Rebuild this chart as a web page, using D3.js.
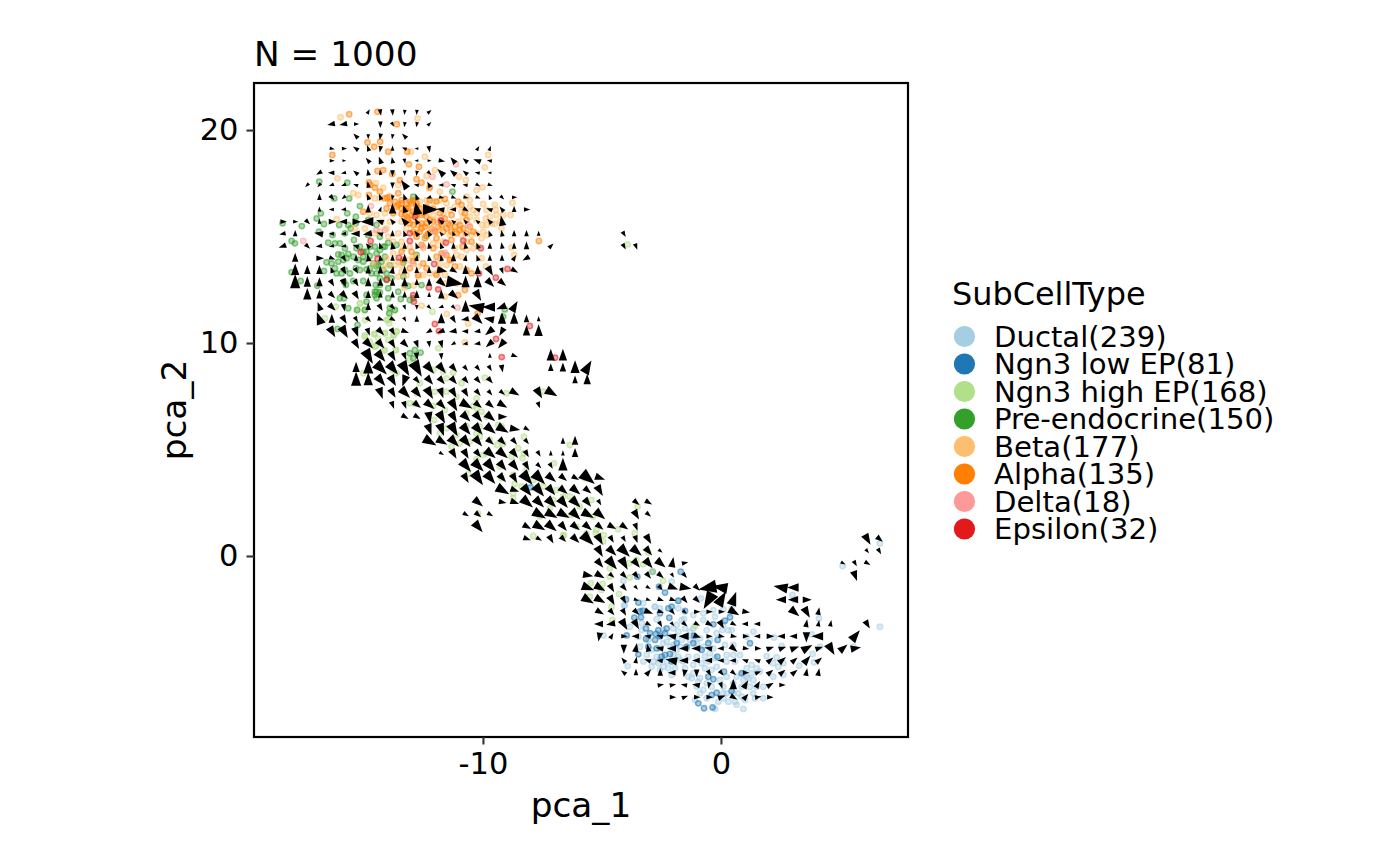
<!DOCTYPE html>
<html><head><meta charset="utf-8">
<script src="https://cdn.jsdelivr.net/npm/d3@7"></script>
<style>html,body{margin:0;padding:0;background:#fff}svg{display:block}text{font-family:"DejaVu Sans",sans-serif;fill:#000}</style>
</head><body><svg id="c" width="1400" height="866"></svg>
<script>
const cellTypes=["Ductal(239)","Ngn3 low EP(81)","Ngn3 high EP(168)","Pre-endocrine(150)","Beta(177)","Alpha(135)","Delta(18)","Epsilon(32)"];
const cellColors=["#A6CEE3","#1F78B4","#B2DF8A","#33A02C","#FDBF6F","#FF7F00","#FB9A99","#E31A1C"];
const xTicks=[-10,0];
const yTicks=[0,10,20];
const ductal=[6.68,0.59,5.11,-0.47,6.68,-3.32,3.01,-1.83,3.07,-2.04,4.12,-2.93,3.81,-3.68,5.56,-4.26,2.23,-3.83,2.55,-4.23,4.16,-4.26,3.85,-4.6,3.91,-4.99,3.29,-5.15,-4.1,-1.16,-2.07,-1.21,-0.84,-1.99,-0.39,-1.57,-4.07,-2.35,-4.94,-3.73,-3.92,-5.17,-2.77,-2.38,-2.56,-2.46,-1.79,-2.46,-1.16,-2.77,-0.74,-2.69,-0.25,-2.85,0.1,-2.5,0.45,-2.5,-1.55,-2.96,-2.7,-2.97,0.06,-3.47,0.31,-3.5,1.36,-3.55,-2,-3.4,-1.79,-3.55,-1.51,-3.4,-1.3,-3.55,-2.56,-3.79,-2.14,-3.79,-1.93,-3.79,-1.65,-3.94,-1.44,-3.79,-2.28,-4.02,-2,-4.18,-1.72,-4.26,-1.44,-4.34,-2.56,-4.34,-1.02,-4.1,-0.74,-4.26,-0.32,-4.34,0.17,-4.18,0.52,-4.18,-0.46,-3.94,-0.88,-3.87,-3.12,-4.65,-2.84,-4.96,-2.63,-5.04,-2.42,-5.2,-2.21,-5.27,-1.93,-5.27,-1.58,-4.96,-1.37,-4.73,-1.16,-5.12,-0.81,-5.04,-0.53,-4.96,-0.25,-4.8,0.24,-4.65,0.52,-4.65,0.8,-4.65,0.24,-4.96,0.59,-4.96,1.92,-4.7,2.34,-4.76,2.2,-5.04,2.41,-5.2,2.62,-5.04,1.29,-5.12,1.08,-5.27,1.5,-5.27,0.94,-5.51,1.29,-5.51,1.64,-5.43,2.2,-5.67,2.62,-5.59,1.78,-6.14,1.15,-5.74,1.36,-5.82,0.94,-5.82,0.52,-5.98,0.1,-6.14,-0.88,-5.74,-0.6,-5.98,-1.02,-6.14,-1.23,-5.74,-1.51,-5.27,-0.67,-5.27,-0.18,-5.2,-1.09,-6.76,-0.6,-6.68,-0.11,-6.84,0.1,-6.68,0.59,-6.84,0.73,-6.45,0.87,-6.61,1.01,-6.76,0.66,-6.99,0.94,-7.18,-0.25,-7.18,1.36,-6.45,1.78,-6.68,1.43,-6.68,0.52,-6.45,-0.88,-6.45,-0.74,-6.29,0.24,-6.45,1.22,-6.14,-0.39,-6.14,-0.04,-5.82,-2,-4.65,-1.72,-4.88,-2.42,-4.1,-2.91,-4.41,-1.02,-4.73,-0.46,-4.57,-0.67,-4.73,-4.04,-2.3,-3.27,-2.22,-2.78,-2.38,-1.8,-2.11,-3.33,-3.48,-3.05,-3.94,-2.42,-3.48,-2.14,-4.26,-1.86,-4.41,-2.7,-4.73,-2.28,-4.96,-1.79,-4.73,-2.56,-4.88,-1.3,-3.94,-1.09,-3.79,-0.6,-3.48,-0.18,-3.63,0.1,-3.24,0.45,-3.48,1.08,-3.79,-0.74,-3.01,-0.32,-2.54,-1.16,-3.4,-1.65,-3.01,-1.86,-3.24,-3.33,-3.16,-3.82,-3.32,-3.47,-3.79,-3.4,-4.26,-3.26,-4.96,-2.91,-5.2,-2.56,-5.35,-2.07,-5.59,-1.37,-5.67,-1.16,-5.51,-0.95,-5.9,-0.39,-5.35,0.24,-5.67,0.66,-5.67,1.08,-5.67,1.5,-6.14,0.87,-6.14,0.31,-6.84,0.1,-6.45];
const ngn3Low=[-3.51,-0.97,-1.69,-0.74,-2.87,-0.74,-2.6,-1.44,-2.35,-1.72,-3.99,-2.04,-3.47,-2.19,-1.79,-2.1,-3.29,-2.57,-3.64,-2.9,-3.36,-2.88,-2.56,-2.69,-2.07,-2.38,-2.21,-2.46,-1.51,-2.58,-2.17,-2.9,0.38,-2.88,0.17,-3.04,-0.32,-3.21,-3.15,-3.4,-2.28,-3.4,-2.63,-3.48,-2.73,-3.66,-3.96,-3.73,-3.15,-3.9,-1.13,-3.74,-0.14,-3.94,-0.53,-4.1,1.22,-4.1,-3.05,-4.26,-2.7,-4.34,-0.81,-4.41,-2.35,-4.65,-2.14,-4.6,-3.47,-4.62,-0.15,-4.73,-2.07,-4.96,0.13,-5.43,0.87,-5.51,-0.32,-5.79,-0.53,-5.67,0.45,-6.34,-0.18,-6.42,-0.39,-6.53,-0.95,-6.92,-0.71,-7.15,-0.35,-7.11,-2.56,-3.76,-2.35,-3.63,-1.86,-4.1,-1.16,-4.1,-1.44,-4.26,-2.49,-4.73,-2.77,-3.94,-2.98,-3.63,-3.4,-2.61,-0.32,-1.44,-8,3.22];
const ngn3High=[-16.64,11.16,-16.18,11.71,-15.31,11.55,-14.96,11.55,-14.96,11.08,-13.98,11.08,-13.91,11.39,-13.7,11.55,-13.63,10.53,-13.77,10.38,-14.12,10.46,-14.58,10.41,-14.96,10.3,-14.75,10.06,-14.5,9.86,-14.16,9.64,-13.66,9.67,-13.07,9.2,-11.88,9.75,-12.12,11.47,-13.98,10.14,-15.03,8.58,-13.63,8.58,-13.8,8.73,-12.65,8.11,-12.09,8.73,-11.25,8.61,-11.53,8.34,-10.9,8.11,-9.92,8.37,-9.01,7.64,-10.27,7.4,-10.41,7.04,-10.06,6.78,-11.53,7.72,-12.02,7.72,-13.07,7.17,-12.86,7.14,-12.09,7.04,-11.6,6.86,-12.05,6.39,-10.27,6.93,-9.36,6.15,-9.22,6.1,-10.69,6.1,-10.27,5.76,-10.55,5.37,-10.97,5.29,-10.13,5.6,-8.28,5.6,-9.4,5.21,-9.15,5.26,-8.52,5.06,-8.28,4.82,-8.34,4.59,-9.99,4.74,-10.27,4.54,-6.35,5.21,-7.02,4.35,-10.62,3.85,-9.22,3.65,-8.73,3.8,-8.66,3.38,-7.89,3.57,-6.91,3.1,-8.73,2.94,-8.73,2.71,-8.38,3.26,-7.19,2.24,-5.44,2.63,-6.35,2.79,-5.72,3.65,-5.37,1.85,-6.28,1.93,-5.23,1.22,-4.32,1.25,-6.63,0.99,-7.89,0.94,-7.47,7.72,-10.2,2,-14.4,10.22,-15.17,11.86,-9.85,4.82,-11.11,5.68,-11.53,6,-11.32,5.13,-11.81,5.76,-3.5,2.32,-4.92,0.99,-4.95,0.68,-3.62,1.07,-4.67,-0.58,-4.67,-0.97,-3.83,-1.01,-2.88,-0.73,-2.43,-1.16,-3.27,-0.39,-3.55,-0.19,-3.87,-0.34,-5.47,-1.28,-4.98,-1.31,-5.02,-1.6,-4.28,-1.78,-5.51,-1.91,-4.6,-2.38,-6.6,0.96,-5.26,1.07,-3.05,0.16,-4.56,-3,-1.09,-3.29,-3.92,14.63,-15.17,11.87,-14.05,11.08,-13.94,10.93,-14.12,10.46,-13.63,10.54,-13.74,10.35,-14.54,10.43,-14.96,10.35,-14.54,9.83,-14.12,9.67,-13.66,9.67,-11.67,8.66,-12.79,7.64,-11.11,7.48,-10.69,6.7,-9.85,6.54,-10.13,6.07,-9.71,5.45,-8.8,4.66,-9.29,4.2,-8.17,4.04,-7.47,3.26,-6.63,2.79,-5.93,2.32,-7.05,2.63,-7.61,1.85,-6.07,1.38,-5.65,1.06];
const preEndocrine=[-18.42,15.62,-17.61,15.49,-16.99,15.85,-16.81,16.09,-16.68,15.59,-16.89,15.23,-18.04,14.79,-17.9,14.68,-16.25,16.79,-16.88,17.58,-15.7,17.53,-15.62,16.79,-15.17,16.43,-15.7,16.09,-15.34,15.93,-15.34,15.62,-16.04,15.54,-15.66,15.54,-15.56,15.38,-15.8,15.15,-15.42,14.84,-16.32,15.07,-14.82,15.78,-14.47,15.54,-14.82,15.07,-14.33,14.99,-16.5,14.71,-16.22,14.68,-16.01,14.68,-15.17,14.52,-14.75,14.09,-13.98,14.71,-13.63,14.6,-14.12,14.05,-14.47,14.21,-16.08,14.16,-15.73,13.98,-16.57,13.79,-16.36,13.74,-16.08,13.82,-15.87,13.9,-16.22,13.51,-18.04,13.32,-16.68,13.38,-15.8,13.43,-15.94,13.27,-15.34,13.51,-14.89,13.46,-14.61,13.74,-14.4,13.66,-14.19,13.43,-13.91,13.66,-13.35,13.77,-17.66,12.91,-16.96,12.69,-15.84,12.88,-15.45,12.91,-15.03,12.91,-14.33,13.04,-14.47,13.27,-14.68,13.27,-14.33,12.72,-13.98,12.57,-13.56,12.41,-13.28,12.72,-12.58,12.72,-14.47,12.41,-14.54,12.25,-13.35,13.12,-12.93,12.1,-13.98,12.1,-16.01,12.1,-12.79,14.13,-11.28,17.11,-12.93,16.87,-12.37,15.03,-15.76,12.73,-14.5,12.73,-14.05,12.96,-14.54,12.41,-14.33,12.37,-13.14,12.68,-14.89,12.26,-14.89,11.94,-14.47,12.1,-13.45,12.07,-13.07,12.02,-15.84,12.1,-15.66,11.63,-15.28,11.55,-14.96,11.55,-13.91,11.66,-13.7,11.55,-13.94,11.4,-9.08,11.58,-9.15,11.24,-15.27,10.85,-16.11,10.66,-13.07,9.52,-12.86,9.67,-12.62,9.55,-12.93,9.28,-15.03,14.05,-15.24,13.9,-14.89,14.29,-14.19,14.52,-15.31,14.45,-15.8,14.45,-15.66,14.18,-15.94,14.13,-14.54,14.52,-14.33,14.37,-14.12,14.52,-14.75,14.52,-15.03,14.29,-14.47,13.59,-14.26,13.82,-14.75,13.51,-14.05,13.27,-13.84,13.04,-15.59,13.27,-16.15,13.27,-15.17,13.43,-15.45,14.05,-15.03,13.82];
const beta=[-15.98,20.6,-12.75,20.55,-13.03,18.98,-12.44,18.75,-16.11,17.73,-12.02,18.12,-9.92,18.25,-9.78,18.83,-11,17.81,-10.72,17.65,-12.37,17.84,-12.26,17.26,-14.19,17.29,-14.5,17.5,-13.56,17.42,-15.45,17.03,-15.24,16.95,-14.33,16.79,-14.54,16.79,-12.37,16.71,-12.09,16.64,-10.69,16.87,-10.27,17.18,-10.02,17.31,-10.55,16.71,-9.99,16.53,-10.27,16.09,-9.5,16.48,-8.76,16.59,-9.85,16.25,-9.46,16.25,-10.27,15.78,-9.88,15.85,-9.15,16.01,-8.84,16.01,-9.5,15.59,-9.22,15.38,-9.29,15.7,-10.02,15.54,-9.82,15.07,-8.8,14.48,-8.69,14.13,-10.06,13.98,-9.88,13.59,-11.32,13.9,-11.53,13.66,-10.9,14.05,-11.98,13.27,-11.6,13.2,-10.97,13.59,-12.72,13.12,-13.21,13.2,-13.56,13.12,-14.12,16.09,-14.26,15.7,-13.91,15.7,-14.05,15.38,-14.33,15.23,-13.98,14.99,-16.15,15.81,-15.38,15.38,-14.96,15.38,-14.54,15.15,-12.37,15.07,-12.51,14.45,-13.07,14.52,-13.35,14.45,-12.79,14.05,-13.56,13.82,-13.77,14.21,-14.61,13.74,-13.98,13.66,-11.18,15.23,-10.9,15.07,-10.69,14.76,-10.48,15.07,-10.06,14.92,-11.67,14.76,-11.18,14.45,-11.39,15.07,-10.41,14.45,-10.2,14.52,-11.95,15.23,-12.09,14.68,-11.88,14.6,-12.93,14.05,-14.19,13.51,-13.42,13.35,-12.72,13.59,-13.7,13.66,-11.6,12.8,-11.11,12.8,-9.99,15.23,-9.64,15.62,-9.43,16.01,-10.83,15.93,-10.41,16.25,-11.53,16.56,-11.39,16.25,-11.81,16.71,-11.81,17.11,-12.65,16.64,-12.09,16.01,-11.04,15.7,-10.55,15.93,-12.79,15.78,-12.58,11.75,-11.52,11.36,-10.62,10.92,-10.76,10.03,-11.6,12.17,-13.3,12.6,-12.9,12.7,-13.42,15.7,-13.21,15.38,-13.56,15.15,-13.77,14.76,-13.42,14.76,-14.75,16.09,-14.47,16.01,-11.67,16.09,-11.95,15.78,-11.18,16.4,-10.9,16.17,-10.55,16.4,-9.71,15.93,-9.85,15.54,-10.27,15.15,-10.69,14.37,-11.11,14.13,-11.81,13.74,-12.23,13.27,-12.51,13.2,-13.14,13.9,-13.42,13.66,-14.05,13.98];
const alpha=[-15.62,20.74,-14.43,20.86,-13.62,20.27,-14.85,19.42,-14.57,19.22,-14.32,19.45,-13.98,18.98,-16.33,18.83,-13.18,18.98,-13.11,18.39,-12.69,18.28,-14.43,18.08,-14.19,18.12,-13.81,17.94,-13.49,17.65,-12.79,17.69,-14.79,17.54,-12.58,17.53,-14.54,17.29,-12.23,17.31,-13.91,16.87,-14.79,16.95,-14.02,16.82,-11.6,16.76,-13.56,17.03,-13.21,16.56,-13,16.56,-12.79,16.4,-12.93,16.17,-13.28,16.25,-14.05,16.32,-13.42,16.06,-10.9,16.48,-10.76,16.09,-15.03,16.17,-11.04,16.64,-11.32,16.01,-12.37,15.93,-12.58,15.62,-12.44,15.46,-12.65,15.23,-13.07,15.62,-12.3,15.15,-11.95,14.92,-11.53,15.38,-11.18,15.46,-10.83,15.38,-11.11,15.15,-11.32,14.84,-10.48,14.76,-10.86,14.52,-10.69,13.43,-10.48,13.27,-11.95,14.05,-12.51,13.74,-12.37,13.51,-12.93,13.85,-13.07,13.51,-10.76,12.49,-11.04,12.25,-7.65,14.79,-12.51,16.09,-13.14,16.32,-11.46,15.62,-13.35,13.9,-11.74,14.21,-10.22,11.39,-14.75,17.42,-14.33,17.11,-14.12,16.79,-13.63,16.4,-13.42,16.56,-13.7,16.64,-13.18,15.9,-12.79,16.01,-12.58,16.01,-12.37,16.4,-12.09,16.32,-12.23,16.71,-11.95,16.64,-11.81,16.09,-11.6,15.85,-11.39,15.54,-10.97,15.54,-10.69,15.78,-10.55,15.46,-10.41,15.23,-11.67,15.23,-11.88,15.46,-12.09,15.7,-12.16,15.38,-12.93,15.23,-12.79,14.99,-12.44,14.92,-12.58,14.6,-12.09,14.45,-11.53,14.13,-11.39,13.9,-11.18,13.59,-11.81,13.43,-13,14.29,-13.42,14.29,-12.72,13.2,-11.95,13.2,-13.42,16.71,-13.21,16.32,-13.07,16.64,-12.93,16.71,-12.79,16.56,-13,16.01,-13.14,15.78,-12.79,16.17,-13.28,16.01,-12.65,16.32,-13.42,16.32,-13.56,16.48,-13.91,16.56,-13.77,16.09,-12.72,15.54,-12.58,15.38,-12.37,15.62,-12.23,15.78,-12.02,15.23,-11.74,15.54,-11.32,15.23,-10.97,15.31,-10.69,15.15,-12.93,15.54,-12.79,15.15];
const delta=[-11.14,18.39,-12.12,17.81,-11.53,17.45,-17.55,14.79,-14.71,16.43,-14.12,15.31,-12.09,15.28,-11.6,14.24,-11.07,11.66,-12.51,14.52,-11.74,15.78,-12.93,13.74,-12.23,16.25,-10.62,15.54,-11.67,14.13,-14.47,15.31];
const epsilon=[-11.77,15.74,-12.86,15.93,-13.07,15.15,-13.07,14.79,-13.53,14.01,-14.43,13.95,-15.13,14.26,-14.72,14.79,-11.56,14.71,-10.83,14.81,-10.09,14.45,-12.05,13.71,-10.17,13.27,-8.97,13.48,-9.46,13.07,-14.05,12.99,-12.27,12.61,-11.88,12.52,-12.93,12.25,-12.9,11.94,-12.02,10.89,-11.85,10.56,-9.45,10.19,-9.21,9.34,-8.03,10.8,-6.97,9.31];
const seriesPoints=[ductal,ngn3Low,ngn3High,preEndocrine,beta,alpha,delta,epsilon];

const gridX=[-18.40,-17.89,-17.38,-16.87,-16.35,-15.84,-15.33,-14.82,-14.31,-13.80,-13.29,-12.78,-12.26,-11.75,-11.24,-10.73,-10.22,-9.71,-9.20,-8.69,-8.17,-7.66,-7.15,-6.64,-6.13,-5.62,-5.11,-4.60,-4.08,-3.57,-3.06,-2.55,-2.04,-1.53,-1.02,-0.50,0.01,0.52,1.03,1.54,2.05,2.56,3.07,3.59,4.10,4.61,5.12,5.63,6.14,6.65];
const gridY=[20.85,20.28,19.71,19.13,18.56,17.99,17.42,16.84,16.27,15.70,15.13,14.55,13.98,13.41,12.84,12.26,11.69,11.12,10.55,9.97,9.40,8.83,8.26,7.68,7.11,6.54,5.97,5.39,4.82,4.25,3.68,3.10,2.53,1.96,1.39,0.81,0.24,-0.33,-0.90,-1.48,-2.05,-2.62,-3.19,-3.77,-4.34,-4.91,-5.48,-6.06,-6.63];
// per grid row: grid column, heading (degrees), speed
const velocityRows=[
[7,300,4,8,80,5,9,85,5,10,95,4,11,95,4,12,320,4],
[4,170,6,5,170,6,6,0,4,8,90,5,9,60,4,10,100,4,11,100,4,12,315,4],
[6,225,5,7,90,4,8,100,5,9,100,4,10,225,5],
[4,10,4,5,0,4,6,215,5,7,250,5,8,100,5,9,270,4,10,200,4,11,180,3,12,80,5,16,300,4,17,290,4],
[4,0,4,5,0,3,7,230,5,8,250,6,9,260,5,10,80,4,11,180,3,12,0,3,13,10,5,14,230,6,15,220,5,16,200,6,17,190,4],
[3,150,5,4,180,5,5,170,4,6,220,5,7,260,5,8,260,4,9,90,5,10,90,4,11,100,4,12,45,4,13,225,7,14,220,6,15,220,5,16,190,4,17,180,3],
[2,135,4,3,135,4,4,160,4,5,160,4,6,200,4,7,260,5,9,90,5,10,235,8,11,190,4,12,240,5,13,180,4,14,200,4,15,190,4,16,30,4,17,20,4],
[3,270,5,4,50,5,5,140,4,7,250,5,8,250,5,9,100,4,10,250,5,11,250,5,12,160,4,13,10,4,14,20,4,15,10,4,16,20,4,17,250,4,18,45,4,19,0,4],
[3,270,4,4,180,4,5,170,4,7,270,6,8,290,4,9,270,8,10,250,6,11,260,10,12,0,12,13,190,6,14,180,5,15,30,5,16,200,5,17,200,5,18,230,5,19,270,5,20,0,5],
[0,0,5,1,0,4,2,45,5,3,270,4,4,0,6,5,180,6,6,0,7,7,180,10,8,200,6,9,230,5,10,230,7,11,240,5,12,230,5,13,220,5,14,220,4,15,230,4,16,220,4,17,230,5,18,260,8],
[0,170,5,1,270,5,3,190,7,4,180,4,5,170,4,6,180,7,7,170,7,8,200,5,9,270,5,10,250,5,11,230,5,12,240,5,13,230,4,14,250,4,15,230,4,16,230,4,17,250,5,18,260,5,19,270,5,20,270,5,21,270,4,28,60,5],
[0,160,6,2,45,5,3,170,5,4,170,4,5,170,4,6,200,5,7,230,5,8,250,5,9,260,6,10,270,5,11,250,5,12,260,5,13,250,5,14,270,5,15,260,5,16,250,5,17,270,5,18,260,5,19,270,5,20,270,6,22,315,5,28,60,5,29,70,5],
[1,270,7,3,0,6,4,20,5,5,60,5,6,270,5,7,260,6,8,260,5,9,270,5,10,270,6,11,280,5,12,260,5,13,260,5,14,270,6,15,280,5,16,250,5,17,270,5,18,270,5,19,300,5,20,150,6],
[1,270,9,2,270,7,3,270,7,4,250,5,5,60,6,6,60,5,7,270,6,8,270,6,9,280,6,10,270,6,11,270,5,12,270,5,13,10,8,14,30,6,15,270,7,16,270,7,17,60,8,18,70,5,19,30,6],
[1,270,11,2,270,8,3,270,7,4,60,6,5,70,7,6,60,6,7,270,7,8,270,6,9,270,6,10,270,7,11,270,5,12,270,6,13,40,8,14,10,13,15,270,9,16,270,9,17,45,8,18,40,7],
[2,270,9,3,270,7,4,45,6,5,45,7,6,60,7,7,270,6,8,270,5,9,270,5,10,270,5,11,270,6,12,270,4,13,270,7,14,40,8,16,60,9],
[3,250,7,4,45,7,5,80,6,7,270,6,8,60,6,9,45,5,10,70,4,11,90,4,12,45,4,13,160,4,14,45,4,15,270,9,16,190,12,17,180,10,18,160,8,19,300,9],
[3,250,10,4,270,7,5,60,7,6,60,5,7,45,5,8,20,5,9,30,5,10,60,4,11,270,5,13,270,8,14,60,6,15,170,6,16,45,9,17,190,8,18,270,9,19,270,9,20,270,6,21,270,4],
[4,60,9,5,60,10,6,70,8,7,70,6,8,45,7,9,60,6,10,20,6,12,150,5,13,160,6,14,170,6,15,180,5,16,170,5,17,140,8,18,120,7,20,270,8,21,270,9],
[6,60,8,7,45,9,8,50,8,9,60,7,10,45,7,11,70,6,12,80,5,13,75,6,14,150,4,15,170,4,16,170,5,17,140,7,18,130,8],
[7,60,12,8,50,10,9,60,8,10,70,6,11,80,6,13,85,5,17,270,4,19,20,5,22,270,9,23,270,9],
[6,270,8,7,270,11,8,45,12,9,50,11,10,60,12,11,60,13,12,50,10,13,50,9,14,50,7,15,50,5,16,50,5,17,60,5,18,80,6,22,270,6,23,270,7,24,270,10,25,300,11],
[6,270,11,7,270,10,8,50,10,9,60,9,10,110,9,11,50,6,12,50,8,13,50,7,14,50,7,15,50,6,16,50,6,17,50,6,24,270,6,25,270,8],
[8,70,9,9,60,8,10,45,10,11,50,9,12,60,10,13,70,8,14,60,8,15,60,7,16,50,6,17,50,5,18,40,5,19,30,8,21,60,9,22,30,10],
[9,70,6,10,70,6,11,40,7,12,40,9,13,45,8,14,60,10,15,30,10,16,40,7,17,40,7,18,30,8,21,70,5],
[10,30,6,11,30,6,12,80,9,13,60,10,14,60,9,15,45,9,16,50,9,17,40,9,18,0,7],
[12,70,9,13,70,10,14,60,11,15,50,10,16,50,10,17,40,10,18,30,10,19,10,8,20,30,5],
[12,30,11,13,30,9,14,45,10,15,50,10,16,50,9,17,40,7,18,45,7,19,50,6,20,50,5,23,270,5,24,270,7],
[13,30,4,14,60,8,15,60,8,16,50,7,17,40,10,18,40,10,19,50,8,20,60,6,21,60,5,22,270,4,23,270,4,24,270,7],
[15,50,11,16,45,11,17,50,11,18,50,9,19,50,9,20,60,7,21,45,5,22,60,5,23,270,10],
[15,60,8,16,55,12,17,50,11,18,50,8,19,60,8,20,50,12,21,45,12,22,40,9,23,40,7,24,30,6,25,40,13,26,20,8],
[18,30,11,19,20,7,20,50,10,21,50,11,22,50,9,23,40,8,24,40,9,25,40,7,26,60,9],
[16,40,9,18,10,6,19,20,7,20,40,11,21,45,10,22,45,10,23,50,10,24,45,10,25,50,8,26,60,5,29,40,6,30,30,6],
[15,30,5,16,40,6,17,30,5,21,30,11,22,30,10,23,30,10,24,45,10,25,30,10,26,40,10,29,60,8,30,40,5],
[16,50,10,20,30,7,21,30,10,22,40,10,23,50,8,24,40,8,25,40,8,26,40,7,27,30,7,28,35,7,29,70,6],
[20,20,6,21,30,5,22,60,7,23,45,6,24,45,8,25,45,12,26,60,9,27,60,6,28,60,5,29,70,6,30,60,8,48,60,9,49,40,6],
[26,60,9,27,45,9,28,45,11,29,40,10,30,50,8,31,40,4,48,50,4,49,60,5],
[26,50,8,27,50,11,28,60,10,29,50,8,30,50,9,31,40,9,32,280,8,33,350,5,46,30,4,47,60,5,48,30,5],
[25,10,8,26,30,8,27,40,5,28,45,6,29,50,6,30,50,6,31,40,6,32,60,4,33,50,5,47,70,8],
[25,20,10,26,30,9,27,60,7,28,50,6,29,50,4,30,30,4,31,50,5,32,20,8,33,10,9,34,45,6,35,170,14,36,190,12,41,190,11,42,180,9],
[25,30,10,26,30,9,27,60,8,28,60,6,29,20,4,30,20,4,31,20,5,32,20,5,33,50,6,34,45,6,35,120,14,36,300,12,37,290,11,41,180,8,42,180,8,43,0,7],
[26,30,7,27,50,6,28,60,6,29,45,6,30,20,7,31,20,5,32,50,5,33,40,4,34,0,5,35,0,5,36,0,5,37,30,9,38,10,6,42,40,9,43,60,9,44,280,6],
[26,180,7,27,170,7,28,60,9,29,60,8,30,30,5,31,60,5,32,50,4,33,40,5,34,30,5,35,30,6,36,60,7,37,30,5,38,180,5,39,180,5,43,280,6,44,280,5,45,280,5,48,60,7],
[26,100,7,27,300,5,28,0,5,29,180,6,30,190,5,31,200,5,32,190,7,33,180,8,34,20,6,35,0,5,36,10,5,37,10,5,38,0,5,39,180,5,40,0,6,41,180,6,42,180,6,43,90,8,44,180,9,47,310,10],
[28,90,7,29,280,7,30,260,6,31,190,6,32,180,7,33,180,7,34,180,7,35,190,6,36,180,5,37,40,7,38,10,5,39,0,5,40,340,6,41,340,6,42,340,7,43,330,9,44,340,6,45,60,10,46,320,8,47,350,8],
[28,230,5,29,280,5,30,200,5,31,190,5,32,190,9,33,180,7,34,180,6,35,180,6,36,180,5,37,180,5,38,200,5,39,200,5,40,320,6,41,320,7,42,320,6,43,310,8,44,320,6],
[28,220,5,29,270,5,30,310,6,31,270,6,32,180,6,33,100,6,34,90,6,35,60,5,36,50,5,37,40,5,38,0,5,39,340,5,40,320,6,41,320,6,42,320,6,43,280,6,44,280,6],
[31,350,5,32,350,5,33,190,5,34,190,6,35,100,5,36,70,5,37,270,8,38,300,7,39,300,6,40,330,6,41,0,5],
[32,0,5,33,340,5,34,0,5,35,0,5,36,340,6,37,30,6,38,310,6,39,350,5,40,0,5]
];

const panel={l:254,r:908,t:83,b:737};
const x=d3.scaleLinear().domain([-19.62,7.86]).range([panel.l,panel.r]);
const y=d3.scaleLinear().domain([22.21,-8.5]).range([panel.t,panel.b]);
const headLength=d3.scaleLinear().domain([0,14]).range([0,18]);
const svg=d3.select("#c");

// points
const points=[];
seriesPoints.forEach((arr,i)=>{for(let k=0;k<arr.length;k+=2)points.push({x:arr[k],y:arr[k+1],i});});
svg.append("g").selectAll("circle").data(points).join("circle")
 .attr("cx",d=>x(d.x)).attr("cy",d=>y(d.y)).attr("r",2.7)
 .attr("fill",d=>cellColors[d.i]).attr("fill-opacity",0.38)
 .attr("stroke",d=>cellColors[d.i]).attr("stroke-opacity",0.55).attr("stroke-width",1.5);

// velocity arrowheads
const arrows=[];
velocityRows.forEach((row,k)=>{for(let j=0;j<row.length;j+=3)arrows.push({x:gridX[row[j]],y:gridY[k],a:row[j+1],m:row[j+2]});});
svg.append("g").selectAll("path").data(arrows).join("path")
 .attr("transform",d=>`translate(${x(d.x)},${y(d.y)}) rotate(${d.a})`)
 .attr("d",d=>{const L=headLength(d.m),w=L*0.36;return `M${L*0.6},0L${-L*0.4},${-w}L${-L*0.4},${w}Z`;})
 .attr("fill","#000");

// frame and axes
svg.append("rect").attr("x",panel.l).attr("y",panel.t).attr("width",panel.r-panel.l).attr("height",panel.b-panel.t)
 .attr("fill","none").attr("stroke","#000").attr("stroke-width",2.2);
const axB=svg.append("g").attr("transform",`translate(0,${panel.b})`).call(d3.axisBottom(x).tickValues(xTicks).tickFormat(d=>String(d)).tickSize(7.5).tickPadding(8));
const axL=svg.append("g").attr("transform",`translate(${panel.l},0)`).call(d3.axisLeft(y).tickValues(yTicks).tickFormat(d=>String(d)).tickSize(7.5).tickPadding(8));
[axB,axL].forEach(a=>{a.select(".domain").remove();a.selectAll("line").attr("stroke","#333").attr("stroke-width",2.1);
 a.selectAll("text").attr("font-size",30.5).attr("font-family","DejaVu Sans").attr("fill","#000");});

svg.append("text").attr("x",254).attr("y",66).attr("font-size",34.3).text("N = 1000");
svg.append("text").attr("x",581).attr("y",817).attr("text-anchor","middle").attr("font-size",34.3).text("pca_1");
svg.append("text").attr("transform","translate(186,410) rotate(-90)").attr("text-anchor","middle").attr("font-size",34.3).text("pca_2");

// legend
svg.append("text").attr("x",952).attr("y",305).attr("font-size",31.9).text("SubCellType");
const legendY=d3.scaleLinear().domain([0,7]).range([336.5,529]);
const lg=svg.append("g").selectAll("g").data(cellTypes).join("g").attr("transform",(d,i)=>`translate(0,${legendY(i)})`);
lg.append("circle").attr("cx",964.5).attr("cy",0).attr("r",10.6).attr("fill",(d,i)=>cellColors[i]);
lg.append("text").attr("x",994).attr("y",10).attr("font-size",29.15).text(d=>d);
</script></body></html>
